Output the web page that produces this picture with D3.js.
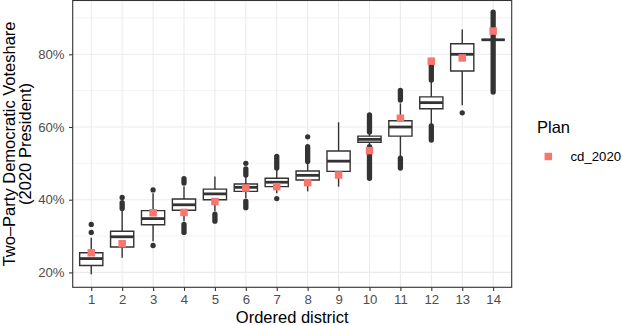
<!DOCTYPE html>
<html lang="en">
<head>
    <meta charset="UTF-8">
    <title>Two-Party Democratic Voteshare by Ordered District</title>
    <style>
        body { margin: 0; background: #fff; }
        svg { display: block; font-family: "Liberation Sans", Arial, sans-serif; }
    </style>
</head>
<body>
    <svg id="chart" width="622" height="325"></svg>
    <script src="https://d3js.org/d3.v7.min.js"></script>
    <script>
        // ordered districts and boxplot summaries (percent)
        var districts = [1, 2, 3, 4, 5, 6, 7, 8, 9, 10, 11, 12, 13, 14];
        var whiskLo = [19.5, 24.0, 28.6, 34.1, 36.8, 40.5, 41.8, 42.3, 43.6, 55.2, 52.0, 60.6, 66.0, 84.0];
        var q1      = [21.9, 27.0, 33.1, 37.1, 40.0, 42.3, 43.6, 45.4, 47.8, 55.8, 57.5, 65.0, 75.4, 84.0];
        var median  = [23.8, 29.8, 34.8, 38.6, 41.6, 43.4, 44.8, 46.7, 50.6, 56.6, 60.0, 66.7, 80.0, 84.0];
        var q3      = [25.4, 31.3, 37.0, 40.2, 42.9, 44.3, 45.9, 47.9, 53.4, 57.5, 61.7, 68.3, 82.9, 84.0];
        var whiskHi = [29.5, 37.0, 41.8, 43.6, 46.4, 46.4, 48.3, 50.2, 61.3, 58.3, 66.5, 72.5, 86.8, 84.0];

        // single outliers, and dense runs of outliers given as [from, to]
        var outlierPts = [[31.0, 33.2], [40.6], [27.4, 42.7], [], [], [50.0], [40.3], [57.3], [], [], [], [], [63.9], []];
        var outlierRuns = [[], [[37.6, 39.2]], [], [[31.0, 33.2], [44.6, 45.8]], [[34.1, 36.0]],
                           [[37.8, 39.6], [46.8, 48.5]], [[48.7, 51.9]], [[50.5, 54.6]], [],
                           [[45.9, 54.6], [58.6, 63.3]], [[48.7, 51.4], [67.4, 70.1]],
                           [[56.4, 60.3], [72.9, 77.0]], [], [[69.6, 91.6]]];

        // enacted plan
        var planName = "cd_2020";
        var cd2020 = [25.4, 27.9, 36.4, 36.5, 39.5, 43.2, 43.6, 44.7, 46.8, 53.5, 62.4, 78.1, 79.0, 86.4];

        var yMajor = [20, 40, 60, 80];
        var yMinor = [30, 50, 70, 90];

        var panel = { left: 72.7, right: 511.7, top: 0.5, bottom: 287.3 };
        var ink = "#333333";

        var svg = d3.select("#chart");

        var x = d3.scaleLinear().domain([0.4, 14.6]).range([panel.left, panel.right]);
        var y = d3.scaleLinear().domain([15.9, 94.8]).range([panel.bottom, panel.top]);

        var boxHalf = (x(1.375) - x(1)); // box width 0.75

        var data = districts.map(function(d, i) {
            return {
                district: d, lo: whiskLo[i], q1: q1[i], med: median[i], q3: q3[i], hi: whiskHi[i],
                pts: outlierPts[i], runs: outlierRuns[i], plan: cd2020[i]
            };
        });

        // panel background + grid
        svg.append("rect")
            .attr("x", panel.left).attr("y", panel.top)
            .attr("width", panel.right - panel.left).attr("height", panel.bottom - panel.top)
            .attr("fill", "#fff");

        svg.append("g").selectAll("line")
            .data(yMinor).enter().append("line")
            .attr("x1", panel.left).attr("x2", panel.right)
            .attr("y1", function(d) { return y(d); }).attr("y2", function(d) { return y(d); })
            .attr("stroke", "#EBEBEB").attr("stroke-width", 0.6);

        svg.append("g").selectAll("line")
            .data(yMajor).enter().append("line")
            .attr("x1", panel.left).attr("x2", panel.right)
            .attr("y1", function(d) { return y(d); }).attr("y2", function(d) { return y(d); })
            .attr("stroke", "#EBEBEB").attr("stroke-width", 1.1);

        svg.append("g").selectAll("line")
            .data(districts).enter().append("line")
            .attr("y1", panel.top).attr("y2", panel.bottom)
            .attr("x1", function(d) { return x(d); }).attr("x2", function(d) { return x(d); })
            .attr("stroke", "#EBEBEB").attr("stroke-width", 1.1);

        // boxplots
        var box = svg.append("g").selectAll("g")
            .data(data).enter().append("g");

        box.append("line")
            .attr("x1", function(d) { return x(d.district); })
            .attr("x2", function(d) { return x(d.district); })
            .attr("y1", function(d) { return y(d.lo); })
            .attr("y2", function(d) { return y(d.hi); })
            .attr("stroke", ink).attr("stroke-width", 1.4);

        box.append("path")
            .attr("d", function(d) {
                var x0 = x(d.district) - boxHalf, x1 = x(d.district) + boxHalf;
                var yt = y(d.q3), yb = y(d.q1);
                return "M" + x0 + "," + yt + "H" + x1 + "V" + yb + "H" + x0 + "Z";
            })
            .attr("fill", "#fff").attr("stroke", ink).attr("stroke-width", 1.4);

        box.append("line")
            .attr("x1", function(d) { return x(d.district) - boxHalf; })
            .attr("x2", function(d) { return x(d.district) + boxHalf; })
            .attr("y1", function(d) { return y(d.med); })
            .attr("y2", function(d) { return y(d.med); })
            .attr("stroke", ink).attr("stroke-width", 2.8);

        box.selectAll("circle")
            .data(function(d) { return d.pts.map(function(v) { return { district: d.district, v: v }; }); })
            .enter().append("circle")
            .attr("cx", function(d) { return x(d.district); })
            .attr("cy", function(d) { return y(d.v); })
            .attr("r", 2.65)
            .attr("fill", ink);

        box.selectAll(".run")
            .data(function(d) { return d.runs.map(function(r) { return { district: d.district, r: r }; }); })
            .enter().append("line")
            .attr("class", "run")
            .attr("x1", function(d) { return x(d.district); })
            .attr("x2", function(d) { return x(d.district); })
            .attr("y1", function(d) { return y(d.r[0]); })
            .attr("y2", function(d) { return y(d.r[1]); })
            .attr("stroke", ink).attr("stroke-width", 5.3).attr("stroke-linecap", "round");

        // enacted plan markers
        var sq = 7.5;
        svg.append("g").selectAll("rect")
            .data(data).enter().append("rect")
            .attr("x", function(d) { return x(d.district) - sq / 2; })
            .attr("y", function(d) { return y(d.plan) - sq / 2; })
            .attr("width", sq).attr("height", sq)
            .attr("fill", "#F8766D");

        // panel border
        svg.append("rect")
            .attr("x", panel.left).attr("y", panel.top)
            .attr("width", panel.right - panel.left).attr("height", panel.bottom - panel.top)
            .attr("fill", "none").attr("stroke", ink).attr("stroke-width", 1.1);

        // axes
        var xAxis = d3.axisBottom(x).tickValues(districts).tickSize(3.6).tickPadding(3.5)
            .tickFormat(d3.format("d"));
        var gx = svg.append("g")
            .attr("transform", "translate(0," + panel.bottom + ")")
            .call(xAxis);

        var yAxis = d3.axisLeft(y).tickValues(yMajor).tickSize(3.6).tickPadding(4.5)
            .tickFormat(function(d) { return d + "%"; });
        var gy = svg.append("g")
            .attr("transform", "translate(" + panel.left + ",0)")
            .call(yAxis);

        [gx, gy].forEach(function(g) {
            g.select(".domain").remove();
            g.selectAll(".tick line").attr("stroke", ink).attr("stroke-width", 1.1);
            g.selectAll(".tick text").attr("fill", "#4D4D4D")
                .style("font-size", "13.2px").style("font-family", "Liberation Sans, Arial, sans-serif");
        });

        // axis titles
        svg.append("text")
            .attr("x", (panel.left + panel.right) / 2)
            .attr("y", 323)
            .attr("text-anchor", "middle")
            .style("font-size", "16.5px")
            .attr("fill", "#000")
            .text("Ordered district");

        var yTitle = svg.append("text")
            .attr("transform", "translate(0," + ((panel.top + panel.bottom) / 2) + ") rotate(-90)")
            .attr("text-anchor", "middle")
            .style("font-size", "16.5px")
            .attr("fill", "#000");
        yTitle.append("tspan").attr("x", 0).attr("y", 15).text("Two–Party Democratic Voteshare");
        yTitle.append("tspan").attr("x", 0).attr("y", 30.5).text("(2020 President)");

        // legend
        var legend = svg.append("g");
        legend.append("text")
            .attr("x", 537).attr("y", 133)
            .style("font-size", "16.5px")
            .text("Plan");
        legend.append("rect")
            .attr("x", 548.3 - sq / 2).attr("y", 156.5 - sq / 2)
            .attr("width", sq).attr("height", sq)
            .attr("fill", "#F8766D");
        legend.append("text")
            .attr("x", 570.5).attr("y", 161)
            .style("font-size", "13.2px")
            .text(planName);
    </script>
</body>
</html>
